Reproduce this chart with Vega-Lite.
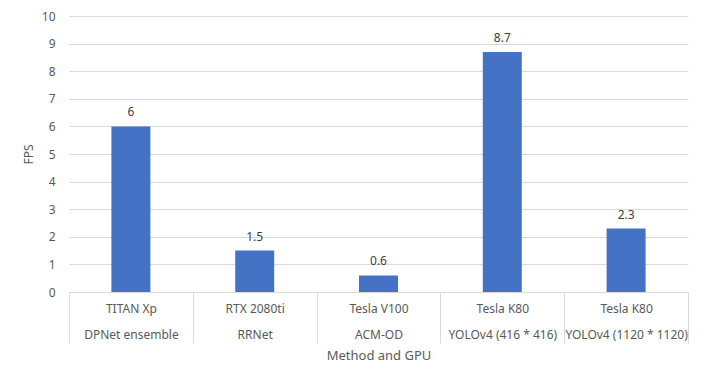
{
  "$schema": "https://vega.github.io/schema/vega-lite/v6.json",
  "width": 619,
  "height": 276,
  "autosize": {"type": "none"},
  "padding": {"left": 69, "top": 16, "right": 18, "bottom": 93},
  "background": "white",
  "config": {
    "view": {"stroke": null},
    "font": "Noto Sans"
  },
  "data": {
    "values": [
      {"label": "TITAN Xp|DPNet ensemble", "fps": 6},
      {"label": "RTX 2080ti|RRNet", "fps": 1.5},
      {"label": "Tesla V100|ACM-OD", "fps": 0.6},
      {"label": "Tesla K80|YOLOv4 (416 * 416)", "fps": 8.7},
      {"label": "Tesla K80 |YOLOv4 (1120 * 1120)", "fps": 2.3}
    ]
  },
  "encoding": {
    "x": {
      "field": "label",
      "type": "nominal",
      "sort": null,
      "scale": {"paddingInner": 0, "paddingOuter": 0},
      "axis": {
        "title": "Method and GPU",
        "titleFont": "Noto Sans",
        "titleFontSize": 13,
        "titleFontWeight": "normal",
        "titleColor": "#595959",
        "titlePadding": 6,
        "labelAngle": 0,
        "labelExpr": "isValid(datum.value) ? split(datum.value, '|') : ''",
        "labelFont": "Noto Sans",
        "labelFontSize": 12,
        "labelColor": "#595959",
        "labelBaseline": "top",
        "labelLineHeight": 26,
        "labelPadding": -40,
        "labelOverlap": false,
        "tickBand": "extent",
        "tickSize": 51,
        "tickColor": "#d9d9d9",
        "domainColor": "#d9d9d9",
        "grid": false
      }
    },
    "y": {
      "field": "fps",
      "type": "quantitative",
      "scale": {"domain": [0, 10]},
      "axis": {
        "title": "FPS",
        "titleFont": "Noto Sans",
        "titleFontSize": 12,
        "titleFontWeight": "normal",
        "titleColor": "#595959",
        "titlePadding": 6,
        "values": [0, 1, 2, 3, 4, 5, 6, 7, 8, 9, 10],
        "labelFont": "Noto Sans",
        "labelFontSize": 12,
        "labelColor": "#595959",
        "labelPadding": 14,
        "ticks": false,
        "domain": false,
        "gridColor": "#d9d9d9"
      }
    }
  },
  "layer": [
    {"mark": {"type": "bar", "color": "#4472C4", "width": {"band": 0.315}}},
    {
      "mark": {"type": "text", "baseline": "bottom", "dy": -7, "fontSize": 12, "color": "#404040", "font": "Noto Sans"},
      "encoding": {"text": {"field": "fps", "type": "quantitative"}}
    }
  ]
}
